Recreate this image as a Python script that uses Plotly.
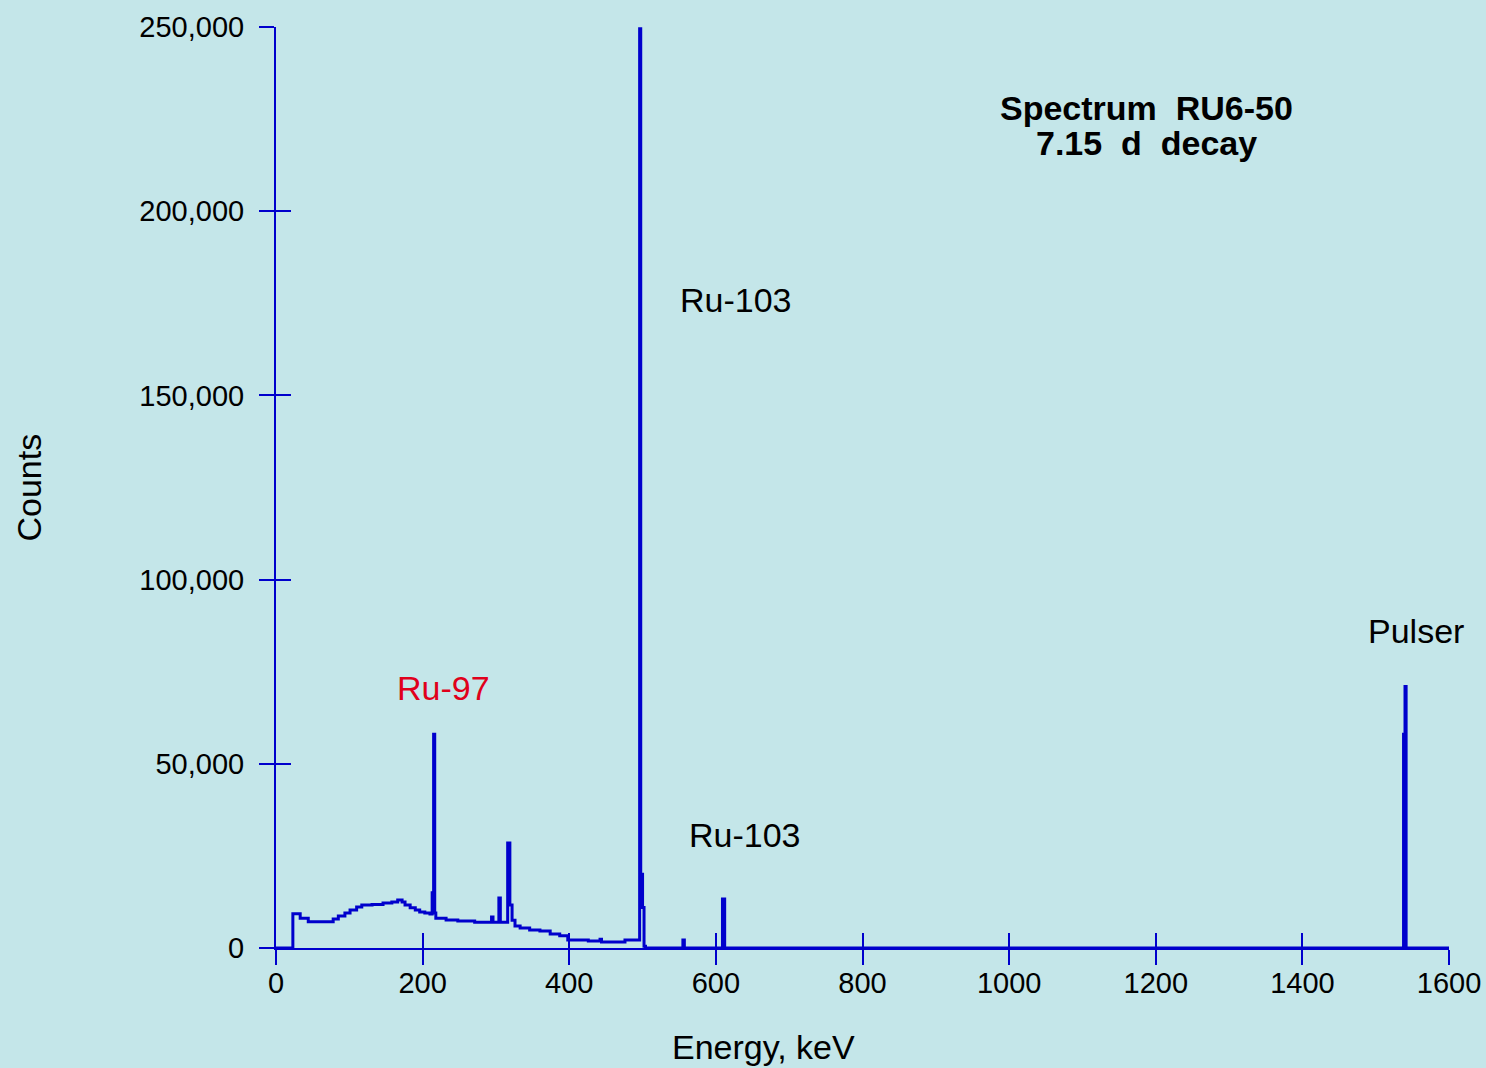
import plotly.graph_objects as go

# Spectrum values (energy keV, counts), stepped
energy_kev = [0, 23, 33, 44, 78, 85, 94, 101, 110, 117, 131, 146, 158, 166, 172, 176,
              183, 190, 196, 203, 210, 213, 215, 216.5, 218, 232, 248, 271, 294, 296,
              304, 306, 316, 319, 322, 326, 333, 346, 360, 374, 387, 398, 426, 442, 444,
              476, 496, 497.5, 500, 502, 504, 555, 557, 609, 612, 1538, 1540, 1541.5, 1600]
counts = [0, 9300, 8100, 7100, 7900, 8700, 9500, 10300, 11100, 11700, 11800, 12200,
          12500, 13000, 12500, 11700, 10900, 10300, 9800, 9500, 9200, 15000, 58000,
          9500, 8100, 7600, 7300, 7000, 8400, 7000, 13600, 7000, 28500, 11700, 7500,
          6000, 5400, 4900, 4600, 3800, 3300, 2200, 1900, 2400, 1600, 2200, 249500,
          20000, 11000, 500, 0, 2200, 0, 13300, 0, 58000, 71000, 0, 0]

x_ticks = [0, 200, 400, 600, 800, 1000, 1200, 1400, 1600]
y_ticks = [0, 50000, 100000, 150000, 200000, 250000]

# Peak labels: (text, energy, counts, colour)
labels = [("Ru-103", 627, 175900, "black"),
          ("Ru-97", 228, 70600, "#E0001B"),
          ("Ru-103", 640, 30700, "black"),
          ("Pulser", 1555, 86000, "black")]
title_lines = [("Spectrum\u00a0\u00a0RU6-50", 228000), ("7.15\u00a0\u00a0d\u00a0\u00a0decay", 218500)]

BLUE = "#0000CC"
BG = "#C4E6E9"
FONT = "Liberation Sans, Arial, Helvetica, sans-serif"

fig = go.Figure()
fig.add_trace(go.Scatter(x=energy_kev, y=counts, mode="lines",
                         line=dict(color=BLUE, width=3, shape="hv"),
                         hoverinfo="skip", showlegend=False))
# same data on the overlay axes (invisible) so the outer tick marks are drawn
fig.add_trace(go.Scatter(x=energy_kev, y=counts, mode="lines", xaxis="x2", yaxis="y2",
                         line=dict(color=BLUE, width=3, shape="hv"), opacity=0,
                         hoverinfo="skip", showlegend=False))

common = dict(showgrid=False, zeroline=False, showline=True, linecolor=BLUE, linewidth=2,
              tickcolor=BLUE, tickwidth=2, ticklen=15, automargin=False)
fig.update_layout(
    width=1486, height=1068,
    paper_bgcolor=BG, plot_bgcolor=BG,
    margin=dict(l=276, r=37, t=27, b=120),
    font=dict(family=FONT, size=29, color="black"),
    showlegend=False,
    xaxis=dict(range=[0, 1600], tickvals=x_ticks, ticks="inside", ticklabelstandoff=8, **common),
    yaxis=dict(range=[0, 250000], tickvals=y_ticks, ticks="inside", tickformat=",",
               ticklabelstandoff=24, **common),
    xaxis2=dict(range=[0, 1600], tickvals=x_ticks, ticks="outside", overlaying="x",
                anchor="y2", side="bottom", showticklabels=False, **common),
    yaxis2=dict(range=[0, 250000], tickvals=y_ticks, ticks="outside", overlaying="y",
                anchor="x2", side="left", showticklabels=False, **common),
)

for text, e, c, col in labels:
    fig.add_annotation(x=e, y=c, xref="x", yref="y", text=text, showarrow=False,
                       xanchor="center", yanchor="middle",
                       font=dict(size=34, color=col, family=FONT))
for text, c in title_lines:
    fig.add_annotation(x=1188, y=c, xref="x", yref="y", text="<b>" + text + "</b>",
                       showarrow=False, xanchor="center", yanchor="middle",
                       font=dict(size=34, color="black", family=FONT))

fig.add_annotation(x=665.6, y=-0.1075, xref="x", yref="paper", text="Energy, keV",
                   showarrow=False, xanchor="center", yanchor="middle",
                   font=dict(size=34, color="black", family=FONT))
fig.add_annotation(x=-0.2114, y=0.5, xref="paper", yref="paper", text="Counts",
                   textangle=-90, showarrow=False, xanchor="center", yanchor="middle",
                   font=dict(size=34, color="black", family=FONT))

fig.write_html("out.html")
